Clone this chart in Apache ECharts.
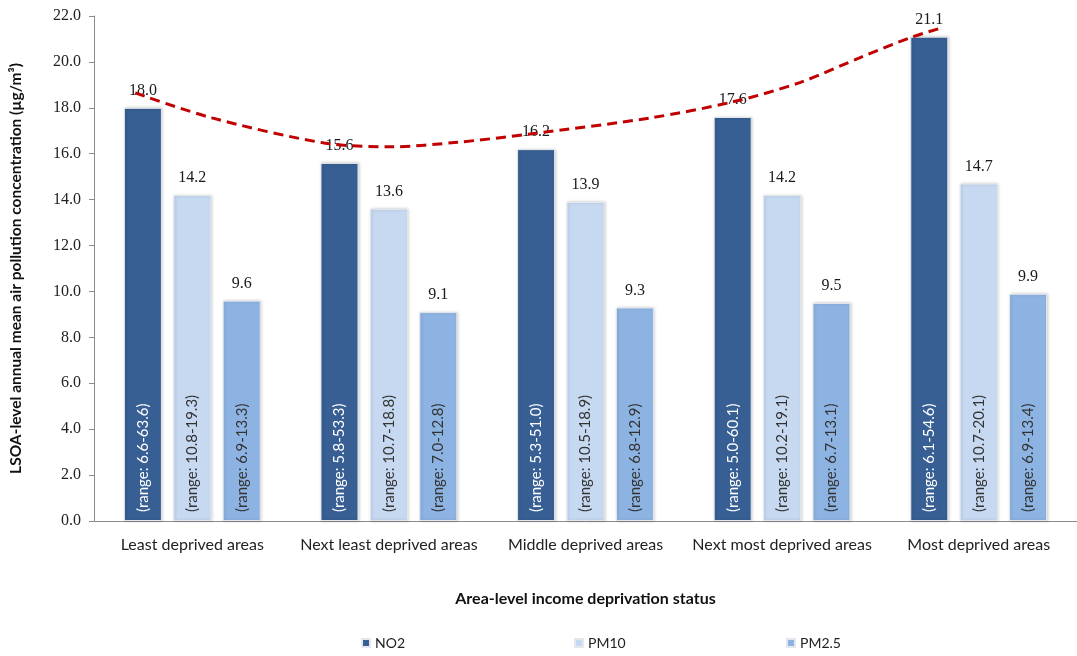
<!DOCTYPE html>
<html>
<head>
<meta charset="utf-8">
<script src="https://cdn.jsdelivr.net/npm/echarts@6/dist/echarts.min.js"></script>
<style>
  html, body { margin: 0; padding: 0; background: #fff; }
  #chart { width: 1077px; height: 656px; }
</style>
</head>
<body>
<div id="chart"></div>
<script>
// Deprivation groups on the category axis
const categories = ['Least deprived areas', 'Next least deprived areas', 'Middle deprived areas', 'Next most deprived areas', 'Most deprived areas'];

// Mean concentrations (µg/m³)
const no2 = [18.0, 15.6, 16.2, 17.6, 21.1];
const pm10 = [14.2, 13.6, 13.9, 14.2, 14.7];
const pm25 = [9.6, 9.1, 9.3, 9.5, 9.9];

// Ranges printed inside each bar
const no2Range = ['6.6-63.6', '5.8-53.3', '5.3-51.0', '5.0-60.1', '6.1-54.6'];
const pm10Range = ['10.8-19.3', '10.7-18.8', '10.5-18.9', '10.2-19.1', '10.7-20.1'];
const pm25Range = ['6.9-13.3', '7.0-12.8', '6.8-12.9', '6.7-13.1', '6.9-13.4'];

// NO2 trend curve: [position along the category axis (0..5), value]
const trendPoints = [
  [0.21, 18.65], [0.60, 17.56], [1.17, 16.47], [1.51, 16.30], [1.85, 16.50],
  [2.22, 16.86], [2.83, 17.56], [3.25, 18.26], [3.59, 19.10], [3.90, 20.20],
  [4.15, 21.05], [4.31, 21.48]
];

const yTicks = { min: 0, max: 22, step: 2 };

const colors = { no2: '#375F93', pm10: '#C6D9F1', pm25: '#8DB3E2' };

const chart = echarts.init(document.getElementById('chart'), null, { renderer: 'canvas' });

const barStyle = (c) => ({
  color: c,
  borderColor: '#e4e8ee',
  borderWidth: 1,
  shadowColor: 'rgba(0,0,0,0.18)',
  shadowBlur: 3,
  shadowOffsetX: 1,
  shadowOffsetY: 0
});

function rangeLabel(ranges, textColor) {
  return {
    show: true,
    position: 'insideBottom',
    rotate: 90,
    align: 'left',
    verticalAlign: 'middle',
    distance: 9,
    color: textColor,
    fontFamily: 'Lato',
    fontSize: 15,
    formatter: (p) => '(range: ' + ranges[p.dataIndex] + ')'
  };
}

// Each pollutant: the bar itself plus a zero-height cap in the same stack carrying the value label
function pollutant(name, values, ranges, color, textColor, stackId) {
  return [
    {
      name: name,
      type: 'bar',
      stack: stackId,
      data: values,
      barWidth: 38,
      barGap: '30%',
      itemStyle: barStyle(color),
      label: rangeLabel(ranges, textColor),
      z: 2
    },
    {
      name: name + '-value',
      type: 'bar',
      stack: stackId,
      data: values.map(() => 0),
      barWidth: 38,
      barGap: '30%',
      itemStyle: { color: 'transparent', borderWidth: 0 },
      label: {
        show: true,
        position: 'top',
        distance: 9,
        color: '#1a1a1a',
        fontFamily: 'Liberation Serif',
        fontSize: 16,
        formatter: (p) => values[p.dataIndex].toFixed(1)
      },
      silent: true,
      z: 3
    }
  ];
}

// One legend entry per block so the three keys sit evenly across the bottom
const legendEntry = (name, left) => ({
  data: [name],
  bottom: 1,
  left: left,
  itemWidth: 8,
  itemHeight: 8,
  itemGap: 6,
  icon: 'rect',
  selectedMode: false,
  textStyle: { fontFamily: 'Lato', fontSize: 14, color: '#222' }
});

const option = {
  backgroundColor: '#ffffff',
  animation: false,
  grid: { left: 92, right: 0, top: 16, bottom: 135, containLabel: false },
  legend: [
    legendEntry('NO2', 356),
    legendEntry('PM10', 569),
    legendEntry('PM2.5', 781)
  ],
  xAxis: [
    {
      type: 'category',
      data: categories,
      axisLine: { lineStyle: { color: '#8a8a8a', width: 1 } },
      axisTick: { show: false },
      axisLabel: { color: '#222', fontFamily: 'Lato', fontSize: 16, margin: 16, interval: 0 },
      name: 'Area-level income deprivation status',
      nameLocation: 'middle',
      nameGap: 70,
      nameTextStyle: { fontFamily: 'Lato', fontWeight: 'bold', fontSize: 16, color: '#111' }
    },
    {
      type: 'value',
      min: 0,
      max: 5,
      show: false
    }
  ],
  yAxis: {
    type: 'value',
    min: yTicks.min,
    max: yTicks.max,
    interval: yTicks.step,
    axisLine: { show: true, lineStyle: { color: '#8a8a8a' } },
    axisTick: { show: true, inside: false, length: 5, lineStyle: { color: '#8a8a8a' } },
    splitLine: { show: false },
    axisLabel: {
      color: '#222',
      fontFamily: 'Liberation Serif',
      fontSize: 16,
      margin: 13,
      formatter: (v) => v.toFixed(1)
    },
    name: 'LSOA-level annual mean air pollution concentration (µg/m³)',
    nameLocation: 'middle',
    nameGap: 70,
    nameRotate: 90,
    nameTextStyle: { fontFamily: 'Lato', fontWeight: 'bold', fontSize: 15.5, color: '#111' }
  },
  series: [
    ...pollutant('NO2', no2, no2Range, colors.no2, '#ffffff', 'a'),
    ...pollutant('PM10', pm10, pm10Range, colors.pm10, '#333333', 'b'),
    ...pollutant('PM2.5', pm25, pm25Range, colors.pm25, '#333333', 'c'),
    {
      name: 'trend',
      type: 'line',
      xAxisIndex: 1,
      data: trendPoints,
      smooth: 0.3,
      showSymbol: false,
      symbol: 'none',
      lineStyle: { color: '#C00000', width: 3, type: [10, 6] },
      silent: true,
      z: 5
    }
  ]
};

chart.setOption(option);
</script>
</body>
</html>
